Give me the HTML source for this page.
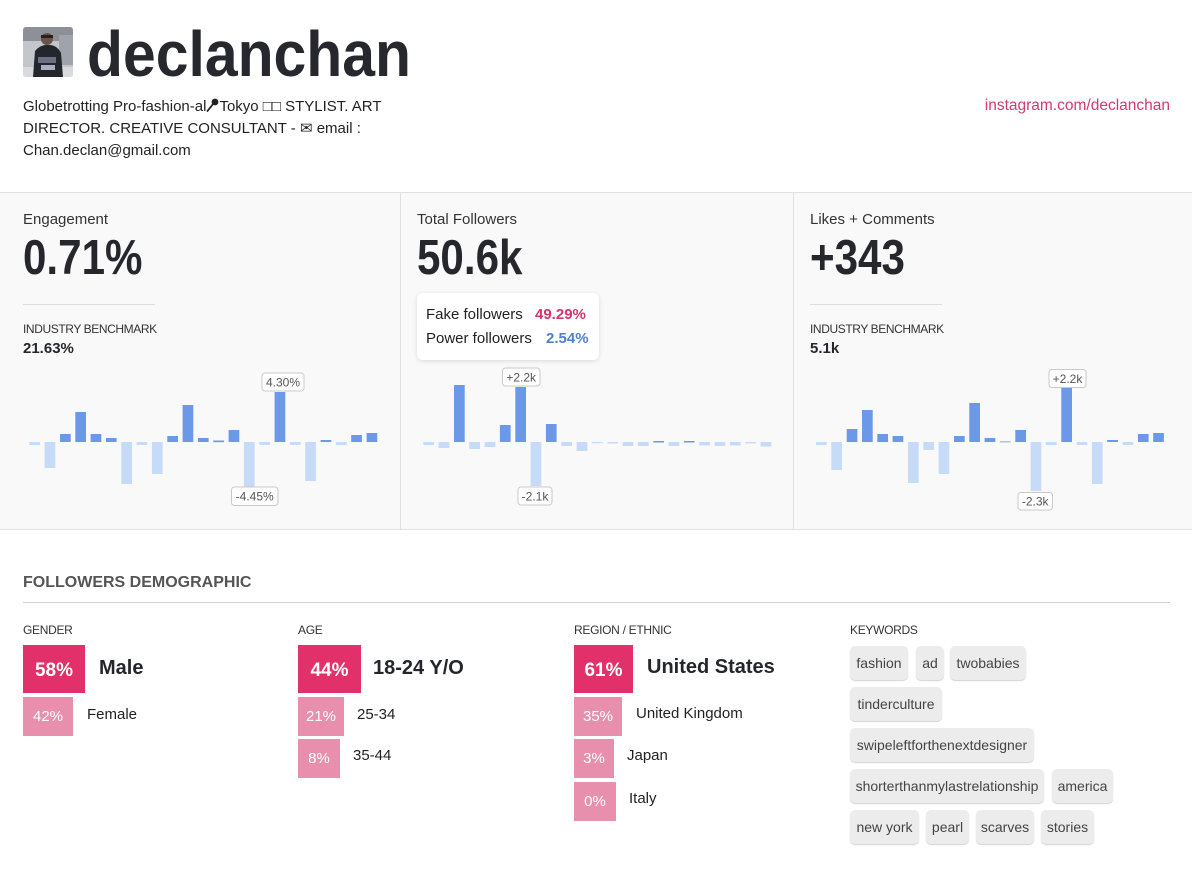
<!DOCTYPE html>
<html><head><meta charset="utf-8">
<style>
*{margin:0;padding:0;box-sizing:border-box}
html,body{width:1192px;height:877px;overflow:hidden;background:#fff}
body{position:relative;font-family:"Liberation Sans","DejaVu Sans",sans-serif;color:#222}
.a{position:absolute;white-space:nowrap}
.t15{font-size:15px;line-height:15px}
.big{font-weight:bold;font-size:49px;line-height:49px;color:#25272c;transform:scaleX(0.86);transform-origin:0 0}
.bench{font-size:12px;line-height:12px;letter-spacing:-0.4px;color:#333}
.benchv{font-size:15px;line-height:15px;font-weight:bold;color:#25272c}
.hr{position:absolute;height:1px;background:#dedede}
.bx1{position:absolute;height:48px;background:#e2306a;color:#fff;font-weight:bold;font-size:19px;line-height:51px;text-align:center}
.bx2{position:absolute;height:39px;background:#e78fad;color:#fff;font-size:15px;line-height:40px;text-align:center}
.l1{position:absolute;font-weight:bold;font-size:20px;line-height:20px;color:#24262b;white-space:nowrap}
.l2{position:absolute;font-size:15px;line-height:15px;color:#222;white-space:nowrap}
.cap{position:absolute;font-size:12px;line-height:12px;color:#333;letter-spacing:-0.3px}
.tag{position:absolute;height:34px;background:#ececec;border-radius:5px;box-shadow:0 1px 1px rgba(0,0,0,0.18);font-size:14px;line-height:34px;color:#444;text-align:center;white-space:nowrap}
</style></head>
<body>

<!-- avatar -->
<svg class="a" style="left:23px;top:27px" width="50" height="50" viewBox="0 0 50 50">
<defs><clipPath id="c"><rect width="50" height="50" rx="3"/></clipPath></defs>
<g clip-path="url(#c)">
<rect width="50" height="50" fill="#c3c6cb"/>
<rect width="50" height="14" fill="#8d9096"/>
<rect x="36" y="8" width="14" height="30" fill="#9fa3aa"/>
<rect x="0" y="40" width="50" height="10" fill="#d9dadc"/>
<path d="M10 50 L12 24 Q18 17 26 18 Q34 18 38 26 L40 50 Z" fill="#23262c"/>
<circle cx="24" cy="12" r="6" fill="#6e5244"/>
<rect x="18" y="8" width="12" height="3" fill="#222"/>
<rect x="15" y="30" width="18" height="6" fill="#6a6f84"/>
<rect x="18" y="38" width="14" height="5" fill="#a9aec6"/>
</g></svg>

<div class="a" style="left:87px;top:22px;font-size:64px;line-height:64px;font-weight:bold;color:#26282d;transform:scaleX(0.92);transform-origin:0 0">declanchan</div>

<div class="a" style="left:23px;top:96px;font-size:15px;line-height:22px;color:#222">Globetrotting Pro-fashion-al<svg width="13" height="14" viewBox="0 0 13 14" style="vertical-align:-1px"><circle cx="9" cy="4" r="3.4" fill="#222"/><path d="M7 6 L1.5 13" stroke="#222" stroke-width="1.8" stroke-linecap="round"/></svg>Tokyo □□ STYLIST. ART<br>DIRECTOR. CREATIVE CONSULTANT - ✉ email :<br>Chan.declan@gmail.com</div>

<div class="a" style="right:22px;top:95px;font-size:15.5px;line-height:22px;color:#d23a72">instagram.com/declanchan</div>

<!-- stats section -->
<div class="a" style="left:0;top:192px;width:1192px;height:338px;background:#f9f9fa;border-top:1px solid #e2e2e2;border-bottom:1px solid #e2e2e2"></div>
<div class="a" style="left:400px;top:193px;width:1px;height:336px;background:#e0e0e0"></div>
<div class="a" style="left:793px;top:193px;width:1px;height:336px;background:#e0e0e0"></div>

<div class="a t15" style="left:23px;top:211.5px;color:#333">Engagement</div>
<div class="a t15" style="left:417px;top:211.5px;color:#333">Total Followers</div>
<div class="a t15" style="left:810px;top:211.5px;color:#333">Likes + Comments</div>

<div class="a big" style="left:23px;top:233.5px">0.71%</div>
<div class="a big" style="left:417px;top:233.5px">50.6k</div>
<div class="a big" style="left:810px;top:233.5px">+343</div>

<div class="hr" style="left:23px;top:304px;width:132px"></div>
<div class="hr" style="left:810px;top:304px;width:132px"></div>

<div class="a bench" style="left:23px;top:323px">INDUSTRY BENCHMARK</div>
<div class="a benchv" style="left:23px;top:340.5px">21.63%</div>
<div class="a bench" style="left:810px;top:323px">INDUSTRY BENCHMARK</div>
<div class="a benchv" style="left:810px;top:340.5px">5.1k</div>

<!-- tooltip -->
<div class="a" style="left:417px;top:293px;width:182px;height:67px;background:#fff;border-radius:6px;box-shadow:0 1px 5px rgba(0,0,0,0.13)"></div>
<div class="a t15" style="left:426px;top:307.3px;color:#222">Fake followers</div>
<div class="a t15" style="left:535px;top:307.3px;color:#d6336c;font-weight:bold">49.29%</div>
<div class="a t15" style="left:426px;top:331.3px;color:#222">Power followers</div>
<div class="a t15" style="left:546px;top:331.3px;color:#5080cc;font-weight:bold">2.54%</div>

<!-- charts -->
<svg class="a" style="left:0;top:0" width="1192" height="877">
<g fill="#c6dbf8">
<!-- left light -->
<rect x="29.3" y="442" width="10.7" height="3"/>
<rect x="44.6" y="442" width="10.7" height="26"/>
<rect x="121.3" y="442" width="10.7" height="42"/>
<rect x="136.6" y="442" width="10.7" height="3"/>
<rect x="151.9" y="442" width="10.7" height="32"/>
<rect x="243.9" y="442" width="10.7" height="45"/>
<rect x="259.3" y="442" width="10.7" height="3"/>
<rect x="289.9" y="442" width="10.7" height="3"/>
<rect x="305.2" y="442" width="10.7" height="39"/>
<rect x="335.9" y="442" width="10.7" height="3"/>
<!-- middle light -->
<rect x="423.3" y="442" width="10.7" height="3"/>
<rect x="438.6" y="442" width="10.7" height="6"/>
<rect x="469.3" y="442" width="10.7" height="7"/>
<rect x="484.6" y="442" width="10.7" height="5"/>
<rect x="530.6" y="442" width="10.7" height="44"/>
<rect x="561.3" y="442" width="10.7" height="4"/>
<rect x="576.6" y="442" width="10.7" height="9"/>
<rect x="591.9" y="442" width="10.7" height="1.2"/>
<rect x="607.3" y="442" width="10.7" height="1.5"/>
<rect x="622.6" y="442" width="10.7" height="4"/>
<rect x="637.9" y="442" width="10.7" height="4"/>
<rect x="668.6" y="442" width="10.7" height="4"/>
<rect x="699.2" y="442" width="10.7" height="3.5"/>
<rect x="714.6" y="442" width="10.7" height="4"/>
<rect x="729.9" y="442" width="10.7" height="3.5"/>
<rect x="745.2" y="442" width="10.7" height="1.5"/>
<rect x="760.6" y="442" width="10.7" height="4.5"/>
<!-- right light -->
<rect x="816" y="442" width="10.7" height="3"/>
<rect x="831.3" y="442" width="10.7" height="28"/>
<rect x="908" y="442" width="10.7" height="41"/>
<rect x="923.3" y="442" width="10.7" height="8"/>
<rect x="938.6" y="442" width="10.7" height="32"/>
<rect x="1030.6" y="442" width="10.7" height="49"/>
<rect x="1046" y="442" width="10.7" height="3"/>
<rect x="1076.6" y="442" width="10.7" height="3"/>
<rect x="1091.9" y="442" width="10.7" height="42"/>
<rect x="1122.6" y="442" width="10.7" height="3"/>
</g>
<g fill="#6b98e7">
<!-- left dark -->
<rect x="60.0" y="434" width="10.7" height="8"/>
<rect x="75.3" y="412" width="10.7" height="30"/>
<rect x="90.6" y="434" width="10.7" height="8"/>
<rect x="105.9" y="438" width="10.7" height="4"/>
<rect x="167.3" y="436" width="10.7" height="6"/>
<rect x="182.6" y="405" width="10.7" height="37"/>
<rect x="197.9" y="438" width="10.7" height="4"/>
<rect x="213.3" y="440.5" width="10.7" height="1.7"/>
<rect x="228.6" y="430" width="10.7" height="12"/>
<rect x="274.6" y="392" width="10.7" height="50"/>
<rect x="320.6" y="440" width="10.7" height="2"/>
<rect x="351.2" y="435" width="10.7" height="7"/>
<rect x="366.6" y="433" width="10.7" height="9"/>
<!-- middle dark -->
<rect x="454.0" y="385" width="10.7" height="57"/>
<rect x="499.9" y="425" width="10.7" height="17"/>
<rect x="515.3" y="387" width="10.7" height="55"/>
<rect x="545.9" y="424" width="10.7" height="18"/>
<rect x="653.3" y="441" width="10.7" height="1.5"/>
<rect x="683.9" y="441" width="10.7" height="1.5"/>
<!-- right dark -->
<rect x="846.7" y="429" width="10.7" height="13"/>
<rect x="862" y="410" width="10.7" height="32"/>
<rect x="877.3" y="434" width="10.7" height="8"/>
<rect x="892.6" y="436" width="10.7" height="6"/>
<rect x="954" y="436" width="10.7" height="6"/>
<rect x="969.3" y="403" width="10.7" height="39"/>
<rect x="984.6" y="438" width="10.7" height="4"/>
<rect x="1015.3" y="430" width="10.7" height="12"/>
<rect x="1061.3" y="388" width="10.7" height="54"/>
<rect x="1107.2" y="440" width="10.7" height="2"/>
<rect x="1137.9" y="434" width="10.7" height="8"/>
<rect x="1153.2" y="433" width="10.7" height="9"/>
</g>
<rect x="999.9" y="441" width="10.7" height="1.5" fill="#b9c2d3"/>
<g fill="#fff" stroke="#c9c9c9" stroke-width="1">
<rect x="262" y="373" width="42" height="18" rx="3"/>
<rect x="231.5" y="487" width="46.5" height="18.5" rx="3"/>
<rect x="502.5" y="368" width="37.5" height="18" rx="3"/>
<rect x="518" y="487" width="34" height="18" rx="3"/>
<rect x="1049" y="369.5" width="37" height="18" rx="3"/>
<rect x="1018" y="492.5" width="34.5" height="17.5" rx="3"/>
</g>
<g font-family="Liberation Sans, DejaVu Sans, sans-serif" font-size="12" fill="#555" text-anchor="middle">
<text x="283" y="386.5">4.30%</text>
<text x="254.7" y="500.5">-4.45%</text>
<text x="521.2" y="381.5">+2.2k</text>
<text x="535" y="500.5">-2.1k</text>
<text x="1067.5" y="383">+2.2k</text>
<text x="1035.2" y="505.5">-2.3k</text>
</g>
</svg>

<!-- demographic -->
<div class="a" style="left:23px;top:574.5px;font-size:16px;line-height:16px;font-weight:bold;color:#555">FOLLOWERS DEMOGRAPHIC</div>
<div class="hr" style="left:23px;top:602px;width:1147px;background:#d2d2d2"></div>

<div class="cap" style="left:23px;top:623.5px">GENDER</div>
<div class="cap" style="left:298px;top:623.5px">AGE</div>
<div class="cap" style="left:574px;top:623.5px">REGION / ETHNIC</div>
<div class="cap" style="left:850px;top:623.5px">KEYWORDS</div>

<!-- gender -->
<div class="bx1" style="left:23px;top:645px;width:62px">58%</div>
<div class="l1" style="left:99px;top:658px">Male</div>
<div class="bx2" style="left:23px;top:697px;width:50px">42%</div>
<div class="l2" style="left:87px;top:706.6px">Female</div>

<!-- age -->
<div class="bx1" style="left:298px;top:645px;width:63px">44%</div>
<div class="l1" style="left:373px;top:658px">18-24 Y/O</div>
<div class="bx2" style="left:298px;top:697px;width:46px">21%</div>
<div class="l2" style="left:357px;top:706.6px">25-34</div>
<div class="bx2" style="left:298px;top:739px;width:42px">8%</div>
<div class="l2" style="left:353px;top:748.3px">35-44</div>

<!-- region -->
<div class="bx1" style="left:574px;top:645px;width:59px">61%</div>
<div class="l1" style="left:647px;top:657px">United States</div>
<div class="bx2" style="left:574px;top:697px;width:48px">35%</div>
<div class="l2" style="left:636px;top:706.3px">United Kingdom</div>
<div class="bx2" style="left:574px;top:739px;width:40px">3%</div>
<div class="l2" style="left:627px;top:748.3px">Japan</div>
<div class="bx2" style="left:574px;top:782px;width:42px">0%</div>
<div class="l2" style="left:629px;top:791.3px">Italy</div>

<!-- keywords -->
<div class="tag" style="left:850px;top:646px;width:58px">fashion</div>
<div class="tag" style="left:916px;top:646px;width:28px">ad</div>
<div class="tag" style="left:950px;top:646px;width:76px">twobabies</div>
<div class="tag" style="left:850px;top:687px;width:92px">tinderculture</div>
<div class="tag" style="left:850px;top:728px;width:184px">swipeleftforthenextdesigner</div>
<div class="tag" style="left:850px;top:769px;width:194px">shorterthanmylastrelationship</div>
<div class="tag" style="left:1052px;top:769px;width:61px">america</div>
<div class="tag" style="left:850px;top:810px;width:69px">new york</div>
<div class="tag" style="left:926px;top:810px;width:43px">pearl</div>
<div class="tag" style="left:976px;top:810px;width:58px">scarves</div>
<div class="tag" style="left:1041px;top:810px;width:53px">stories</div>

</body></html>
